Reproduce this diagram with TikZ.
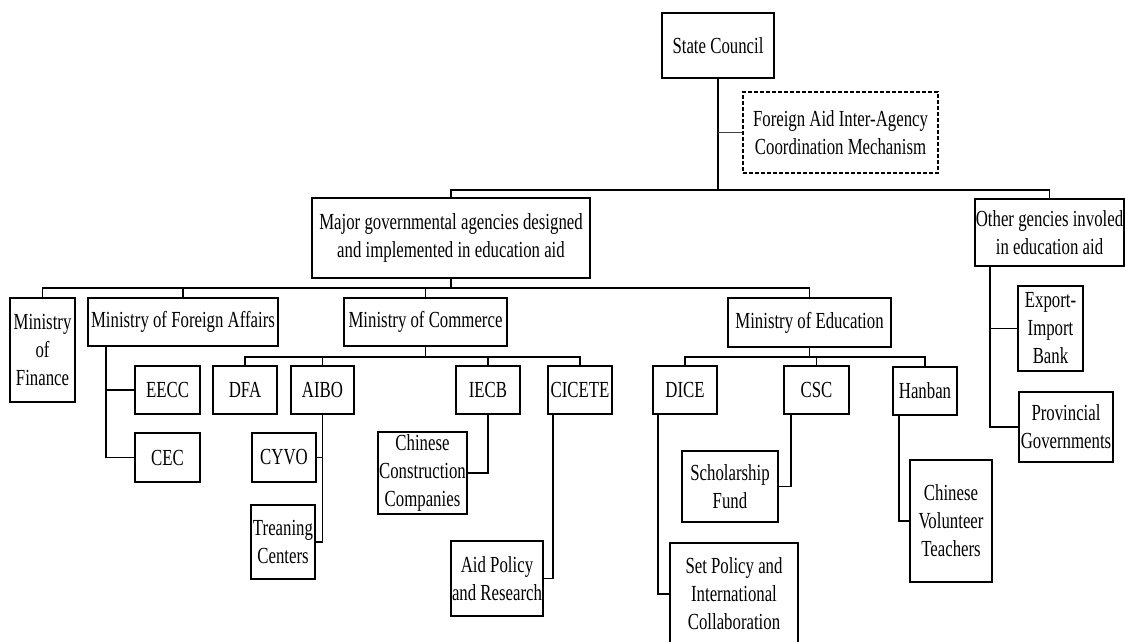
\documentclass[tikz,border=0pt]{standalone}
\usepackage{fontspec}
\setmainfont{Liberation Serif}[FakeStretch=0.73]
\usepackage{tikz}

\tikzset{
    orgbox/.style={draw, line width=1.8pt, align=center, inner sep=0pt, font=\fontsize{23}{28}\selectfont},
    orgline/.style={line width=1.8pt},
}

\begin{document}
\begin{tikzpicture}[x=1pt, y=-1pt]
    \useasboundingbox (0,0) rectangle (1125,641);

    % top
    \node[orgbox, minimum width=112, minimum height=65] (SC) at (718,45.5) {State Council};
    \node[orgbox, dashed, dash pattern=on 4pt off 2pt, minimum width=195, minimum height=81] (Mech) at (840.5,132.5) {Foreign Aid Inter-Agency\\Coordination Mechanism};
    \node[orgbox, minimum width=278, minimum height=80] (Major) at (451,238) {Major governmental agencies designed\\and implemented in education aid};
    \node[orgbox, minimum width=149, minimum height=67] (Other) at (1049.5,232.5) {Other gencies involed\\in education aid};

    % ministries
    \node[orgbox, minimum width=65, minimum height=104] (Fin) at (42.5,350) {Ministry\\of\\Finance};
    \node[orgbox, minimum width=190, minimum height=48] (MFA) at (183,322) {Ministry of Foreign Affairs};
    \node[orgbox, minimum width=163, minimum height=48] (MOFCOM) at (425.5,322) {Ministry of Commerce};
    \node[orgbox, minimum width=163, minimum height=49] (MOE) at (809.5,322.5) {Ministry of Education};

    % foreign affairs
    \node[orgbox, minimum width=65, minimum height=48] (EECC) at (167.5,390) {EECC};
    \node[orgbox, minimum width=65, minimum height=49] (CEC) at (167.5,457.5) {CEC};

    % commerce
    \node[orgbox, minimum width=64, minimum height=48] (DFA) at (245,390) {DFA};
    \node[orgbox, minimum width=63, minimum height=48] (AIBO) at (322.5,390) {AIBO};
    \node[orgbox, minimum width=64, minimum height=48] (IECB) at (488,390) {IECB};
    \node[orgbox, minimum width=64, minimum height=48] (CICETE) at (580,390) {CICETE};
    \node[orgbox, minimum width=64, minimum height=49] (CYVO) at (284,457.5) {CYVO};
    \node[orgbox, minimum width=64, minimum height=74] (Train) at (283,542) {Treaning\\Centers};
    \node[orgbox, minimum width=89, minimum height=82] (CCC) at (422.5,473) {Chinese\\Construction\\Companies};
    \node[orgbox, minimum width=92, minimum height=75] (APR) at (497,578.5) {Aid Policy\\and Research};

    % education
    \node[orgbox, minimum width=64, minimum height=48] (DICE) at (685,390) {DICE};
    \node[orgbox, minimum width=65, minimum height=48] (CSC) at (816.5,390) {CSC};
    \node[orgbox, minimum width=64, minimum height=48] (Hanban) at (925,391) {Hanban};
    \node[orgbox, minimum width=96, minimum height=71] (SF) at (730,486.5) {Scholarship\\Fund};
    \node[orgbox, minimum width=128, minimum height=102] (SPIC) at (734,594) {Set Policy and\\International\\Collaboration};
    \node[orgbox, minimum width=82, minimum height=122] (CVT) at (951,521) {Chinese\\Volunteer\\Teachers};

    % other agencies
    \node[orgbox, minimum width=65, minimum height=85] (Exim) at (1050.5,328.5) {Export-\\Import\\Bank};
    \node[orgbox, minimum width=94, minimum height=70] (Prov) at (1066,427) {Provincial\\Governments};

    % level 1
    \draw[orgline] (SC.south) -- ++(0,111) coordinate (T1);
    \draw[orgline] (Major.north) |- (T1) -| (Other.north);
    \draw[line width=1.1pt, black!75] (SC.south |- Mech.west) -- (Mech.west);

    % level 2
    \draw[orgline] (Major.south) -- ++(0,9) coordinate (T2);
    \draw[orgline] (Fin.north) |- (T2) -| (MOE.north);
    \draw[orgline] (MFA.north) -- (MFA.north |- T2);
    \draw[orgline] (MOFCOM.north) -- (MOFCOM.north |- T2);

    % level 3
    \draw[orgline] (MOFCOM.south) -- ++(0,10) coordinate (T3);
    \draw[orgline] (DFA.north) |- (T3) -| (CICETE.north);
    \draw[orgline] (AIBO.north) -- (AIBO.north |- T3);
    \draw[orgline] (IECB.north) -- (IECB.north |- T3);
    \draw[orgline] (MOE.south) -- ++(0,9) coordinate (T4);
    \draw[orgline] (DICE.north) |- (T4) -| (Hanban.north);
    \draw[orgline] (CSC.north) -- (CSC.north |- T4);

    % side branches
    \draw[orgline] ([xshift=19pt]MFA.south west) |- (EECC.west);
    \draw[orgline] ([xshift=19pt]MFA.south west) |- (CEC.west);
    \draw[orgline] (AIBO.south) |- (CYVO.east);
    \draw[orgline] (AIBO.south) |- (Train.east);
    \draw[orgline] (IECB.south) |- (CCC.east);
    \draw[orgline] ([xshift=6pt]CICETE.south west) |- (APR.east);
    \draw[orgline] ([xshift=6pt]DICE.south west) |- (SPIC.west);
    \draw[orgline] ([xshift=8pt]CSC.south west) |- (SF.east);
    \draw[orgline] ([xshift=7pt]Hanban.south west) |- (CVT.west);
    \draw[orgline] ([xshift=16pt]Other.south west) |- (Exim.west);
    \draw[orgline] ([xshift=16pt]Other.south west) |- (Prov.west);
\end{tikzpicture}
\end{document}
